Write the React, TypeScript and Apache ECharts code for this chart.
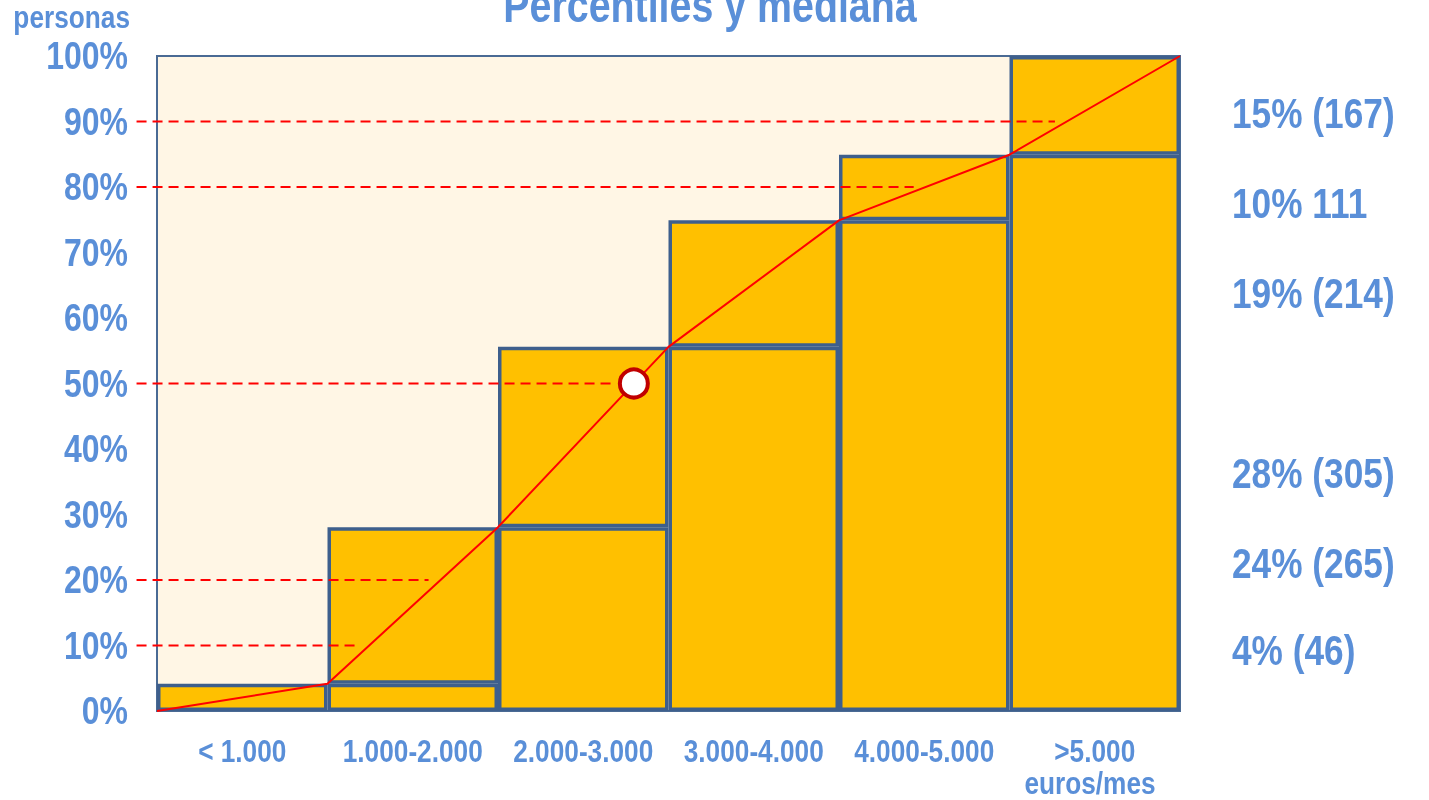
import React, { useEffect, useRef } from "react";
import * as echarts from "echarts";

const categories = ["< 1.000", "1.000-2.000", "2.000-3.000", "3.000-4.000", "4.000-5.000", ">5.000"];
const xUnit = "euros/mes";
const yUnit = "personas";
const titleText = "Percentiles y mediana";
const counts = [46, 265, 305, 214, 111, 167];
const sideLabels = ["15% (167)", "10% 111", "19% (214)", "28% (305)", "24% (265)", "4% (46)"];
const sideLabelY = [113, 203, 293, 473, 563, 650];
const yTicks = [0, 10, 20, 30, 40, 50, 60, 70, 80, 90, 100];
const percentileLevels = [10, 20, 50, 80, 90];
const medianLevel = 50;

const FONT = "'Liberation Sans', Arial, sans-serif";
const NARROW = 0.82;
const BLUE = "#5A8FD8";
const BORDER = "#3E5F8C";
const GOLD = "#FFC000";

const total = counts.reduce((a, b) => a + b, 0);
const pct = counts.map((c) => (c / total) * 100);
const cum: number[] = [];
pct.forEach((p, i) => cum.push((i ? cum[i - 1] : 0) + p));
const baseVals = pct.map((_, i) => (i === 0 ? "-" : cum[i - 1]));
const ogive: number[][] = [[0, 0]].concat(cum.map((c, i) => [i + 1, c]));

function ogiveX(level: number) {
  for (let i = 1; i < ogive.length; i++) {
    const [x0, y0] = ogive[i - 1];
    const [x1, y1] = ogive[i];
    if (level <= y1) return x0 + ((level - y0) / (y1 - y0)) * (x1 - x0);
  }
  return ogive[ogive.length - 1][0];
}

function txt(text: string, x: number, y: number, size: number, align: string) {
  return {
    type: "text",
    x,
    y,
    scaleX: NARROW,
    z: 20,
    style: {
      text,
      fill: BLUE,
      font: `bold ${size}px ${FONT}`,
      align,
      verticalAlign: "middle",
    },
  };
}

export default function App() {
  const ref = useRef<HTMLDivElement>(null);
  useEffect(() => {
    const chart = echarts.init(ref.current!, null, { renderer: "svg" });
    chart.setOption({
      animation: false,
      grid: {
        left: 157,
        right: 249,
        top: 56,
        bottom: 89,
        outerBoundsMode: "none",
        show: true,
        backgroundColor: "#FFF6E5",
        borderColor: "#4A6A94",
        borderWidth: 2,
      },
      xAxis: [
        {
          type: "category",
          data: categories,
          axisLine: { show: false },
          axisTick: { show: false },
          axisLabel: { show: false },
        },
        { type: "value", min: 0, max: 6, show: false },
      ],
      yAxis: {
        type: "value",
        min: 0,
        max: 100,
        interval: 10,
        axisLine: { show: false },
        axisTick: { show: false },
        splitLine: { show: false },
        axisLabel: { show: false },
      },
      series: [
        {
          type: "bar",
          stack: "s",
          barCategoryGap: "0%",
          data: baseVals,
          z: 2,
          itemStyle: { color: GOLD, borderColor: BORDER, borderWidth: 3.5 },
        },
        {
          type: "bar",
          stack: "s",
          barCategoryGap: "0%",
          data: pct,
          z: 2,
          itemStyle: { color: GOLD, borderColor: BORDER, borderWidth: 3.5 },
        },
        {
          type: "line",
          xAxisIndex: 1,
          data: ogive,
          symbol: "none",
          z: 5,
          lineStyle: { color: "#FF0000", width: 2 },
        },
        {
          type: "scatter",
          xAxisIndex: 1,
          data: [[ogiveX(medianLevel), medianLevel]],
          symbol: "circle",
          symbolSize: 28,
          z: 6,
          itemStyle: { color: "#FFFFFF", borderColor: "#C00000", borderWidth: 4, opacity: 1 },
        },
      ],
    });

    const toPx = (x: number, y: number) => chart.convertToPixel({ seriesIndex: 2 }, [x, y]) as number[];
    const dashEls = percentileLevels.map((lv) => {
      const a = toPx(-0.12, lv);
      const b = toPx(ogiveX(lv) - (lv === medianLevel ? 0.13 : 0.07), lv);
      return {
        type: "line",
        z: 4,
        silent: true,
        shape: { x1: a[0], y1: a[1], x2: b[0], y2: b[1] },
        style: { stroke: "#FF0000", lineWidth: 1.8, lineDash: [10, 6] },
      };
    });
    const yLabelEls = yTicks.map((v) => {
      const py = chart.convertToPixel({ yAxisIndex: 0 }, v) as number;
      return txt(`${v}%`, 128, py, 39, "right");
    });
    const xLabelEls = categories.map((c) => {
      const px = chart.convertToPixel({ xAxisIndex: 0 }, c) as number;
      return txt(c, px, 751, 32, "center");
    });
    chart.setOption({
      graphic: [
        txt(titleText, 710, 5, 48, "center"),
        txt(yUnit, 130, 17, 32, "right"),
        txt(xUnit, 1090, 783, 32, "center"),
        ...sideLabels.map((t, i) => txt(t, 1232, sideLabelY[i], 43, "left")),
        ...yLabelEls,
        ...xLabelEls,
        ...dashEls,
      ],
    });
    return () => chart.dispose();
  }, []);
  return <div ref={ref} style={{ position: "fixed", left: 0, top: 0, width: 1429, height: 800 }} />;
}
